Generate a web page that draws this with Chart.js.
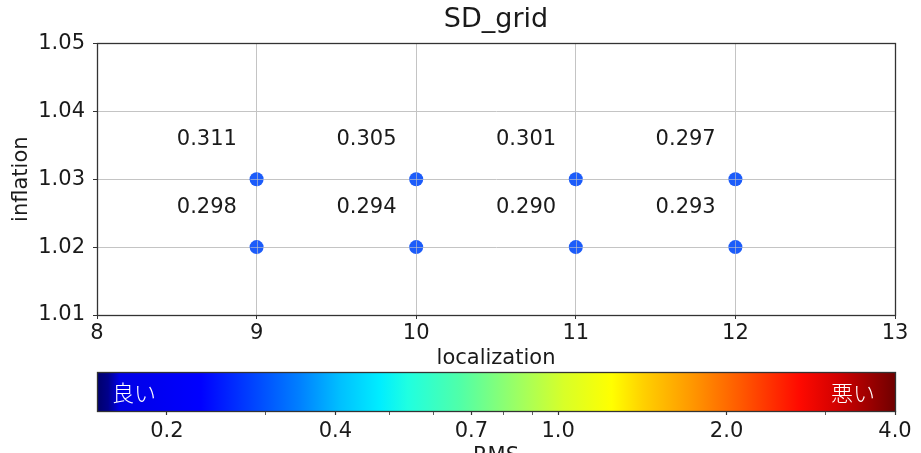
<!DOCTYPE html>
<html>
<head>
<meta charset="utf-8">
<script src="https://cdn.jsdelivr.net/npm/chart.js@4.4.0/dist/chart.umd.min.js"></script>
<style>
  html, body { margin: 0; padding: 0; background: #fff; overflow: hidden; }
  #wrap { position: relative; width: 921px; height: 453px; overflow: hidden; }
  canvas { position: absolute; left: 0; }
  #main { top: 0; }
  #cbar { top: 370px; }
</style>
</head>
<body>
<div id="wrap">
  <canvas id="main" width="921" height="370"></canvas>
  <canvas id="cbar" width="921" height="110"></canvas>
</div>
<script>
const chartTitle = 'SD_grid'
const xLabel = 'localization'
const yLabel = 'inflation'
const localization = [9, 10, 11, 12]
const inflation = [1.03, 1.02]
// RMS for each localization, one list per inflation row
const rms103 = [0.311, 0.305, 0.301, 0.297]
const rms102 = [0.298, 0.294, 0.290, 0.293]
const xTicks = [8, 9, 10, 11, 12, 13]
const yTicks = [1.01, 1.02, 1.03, 1.04, 1.05]

// colorbar
const cbLabel = 'RMS'
const cbMin = 0.15
const cbMax = 4.0
const cbMajor = [0.2, 0.4, 0.7, 1.0, 2.0, 4.0]
const cbMinor = [0.3, 0.5, 0.6, 0.8, 0.9, 3.0]
const goodLabel = '良い'
const badLabel = '悪い'

const FONT = '"DejaVu Sans", sans-serif'
const INK = '#1a1a1a'
const R = 7
Chart.defaults.font.family = FONT
Chart.defaults.color = INK

// jet-like ramp, stop positions along the bar
const ramp = [
  [0.000, '#00006a'], [0.014, '#00008c'], [0.028, '#0000e6'], [0.130, '#0000ff'],
  [0.254, '#0080ff'], [0.305, '#00c0ff'], [0.355, '#00eeff'], [0.390, '#20ffe0'],
  [0.455, '#50ffa8'], [0.530, '#a0ff60'], [0.585, '#d8ff28'], [0.645, '#ffff00'],
  [0.685, '#ffd000'], [0.745, '#ff9800'], [0.806, '#ff5a00'], [0.880, '#ff0a00'],
  [0.930, '#d00000'], [1.000, '#700000']
]

const points = inflation.flatMap(inf => localization.map(loc => ({x: loc, y: inf})))

const rmsText = {
  id: 'rmsText',
  afterDraw(chart) {
    const {ctx, scales: {x, y}} = chart
    const rows = [rms103, rms102]
    ctx.save()
    ctx.font = '21px ' + FONT
    ctx.fillStyle = INK
    ctx.textAlign = 'left'
    ctx.textBaseline = 'alphabetic'
    inflation.forEach((inf, r) => {
      localization.forEach((loc, i) => {
        ctx.fillText(rows[r][i].toFixed(3), x.getPixelForValue(loc - 0.5), y.getPixelForValue(inf + 0.005))
      })
    })
    ctx.restore()
  }
}

// matplotlib draws the grid over the markers: redo the grid just across each dot
const gridOver = {
  id: 'gridOver',
  afterDatasetsDraw(chart) {
    const {ctx, scales: {x, y}} = chart
    ctx.save()
    ctx.strokeStyle = 'rgba(200,200,200,0.6)'
    ctx.lineWidth = 1
    ctx.beginPath()
    points.forEach(p => {
      const px = Math.round(x.getPixelForValue(p.x)) + 0.5
      const py = Math.round(y.getPixelForValue(p.y)) + 0.5
      ctx.moveTo(px, py - R); ctx.lineTo(px, py + R)
      ctx.moveTo(px - R, py); ctx.lineTo(px + R, py)
    })
    ctx.stroke()
    ctx.restore()
  }
}

const frame = {
  id: 'frame',
  afterDraw(chart) {
    const a = chart.chartArea
    const ctx = chart.ctx
    ctx.save()
    ctx.strokeStyle = '#333'
    ctx.lineWidth = 1.3
    ctx.strokeRect(Math.round(a.left) + 0.5, Math.round(a.top) + 0.5, Math.round(a.right - a.left), Math.round(a.bottom - a.top))
    ctx.restore()
  }
}

new Chart(document.getElementById('main'), {
  type: 'scatter',
  data: {
    datasets: [{
      data: points,
      pointRadius: R,
      pointHoverRadius: R,
      backgroundColor: '#1c5cfa',
      borderWidth: 0
    }]
  },
  options: {
    responsive: false,
    animation: false,
    events: [],
    layout: { padding: { left: 0, right: 26, top: 0, bottom: 0 } },
    plugins: {
      legend: { display: false },
      tooltip: { enabled: false },
      title: {
        display: true,
        text: chartTitle,
        fullSize: false,
        color: INK,
        font: { size: 27, weight: 'normal' },
        padding: { top: 4, bottom: 7 }
      }
    },
    scales: {
      x: {
        type: 'linear',
        min: xTicks[0],
        max: xTicks[xTicks.length - 1],
        afterBuildTicks: s => { s.ticks = xTicks.map(v => ({value: v})) },
        afterFit: s => { s.height = 55 },
        ticks: { font: { size: 21 }, padding: 2, maxRotation: 0, autoSkip: false, callback: v => String(v) },
        grid: { color: '#c4c4c4', lineWidth: 1, tickColor: '#333', tickLength: 4 },
        border: { color: '#333' },
        title: { display: true, text: xLabel, font: { size: 21 }, padding: { top: 0, bottom: -1 } }
      },
      y: {
        type: 'linear',
        min: yTicks[0],
        max: yTicks[yTicks.length - 1],
        afterBuildTicks: s => { s.ticks = yTicks.map(v => ({value: v})) },
        afterFit: s => { s.width = 97 },
        ticks: { font: { size: 21 }, padding: 8, autoSkip: false, callback: v => Number(v).toFixed(2) },
        grid: { color: '#c4c4c4', lineWidth: 1, tickColor: '#333', tickLength: 4 },
        border: { color: '#333' },
        title: { display: true, text: yLabel, font: { size: 21 }, padding: { top: 9, bottom: 0 } }
      }
    }
  },
  plugins: [gridOver, rmsText, frame]
})

const cbText = {
  id: 'cbText',
  afterDraw(chart) {
    const a = chart.chartArea
    const ctx = chart.ctx
    const mid = (a.top + a.bottom) / 2 + 1
    ctx.save()
    ctx.font = '300 22px "Noto Sans CJK JP", sans-serif'
    ctx.fillStyle = '#fff'
    ctx.textBaseline = 'middle'
    ctx.textAlign = 'left'
    ctx.fillText(goodLabel, a.left + 15, mid)
    ctx.textAlign = 'right'
    ctx.fillText(badLabel, a.right - 20, mid)
    ctx.restore()
  }
}

const cbTicks = cbMajor.concat(cbMinor).sort((p, q) => p - q)

new Chart(document.getElementById('cbar'), {
  type: 'bar',
  data: {
    labels: [cbLabel],
    datasets: [{
      data: [[cbMin, cbMax]],
      barPercentage: 1,
      categoryPercentage: 1,
      borderWidth: 0,
      backgroundColor(context) {
        const a = context.chart.chartArea
        if (!a) return '#00f'
        const g = context.chart.ctx.createLinearGradient(a.left, 0, a.right, 0)
        ramp.forEach(([p, c]) => g.addColorStop(p, c))
        return g
      }
    }]
  },
  options: {
    indexAxis: 'y',
    responsive: false,
    animation: false,
    events: [],
    layout: { padding: { left: 97, right: 26, top: 2, bottom: 0 } },
    plugins: { legend: { display: false }, tooltip: { enabled: false } },
    scales: {
      y: { display: false },
      x: {
        type: 'logarithmic',
        min: cbMin,
        max: cbMax,
        afterBuildTicks: s => { s.ticks = cbTicks.map(v => ({value: v, major: cbMajor.includes(v)})) },
        afterFit: s => { s.height = 69 },
        ticks: {
          font: { size: 21 },
          padding: 4,
          maxRotation: 0,
          autoSkip: false,
          callback: v => cbMajor.includes(v) ? v.toFixed(1) : ''
        },
        grid: {
          drawOnChartArea: false,
          drawTicks: true,
          tickLength: 4,
          tickColor: '#333',
          tickWidth: ctx => (ctx.tick && ctx.tick.major ? 1.2 : 0.8)
        },
        border: { display: false },
        title: { display: true, text: cbLabel, font: { size: 21 }, padding: { top: 0, bottom: 11 } }
      }
    }
  },
  plugins: [cbText, frame]
})
</script>
</body>
</html>
